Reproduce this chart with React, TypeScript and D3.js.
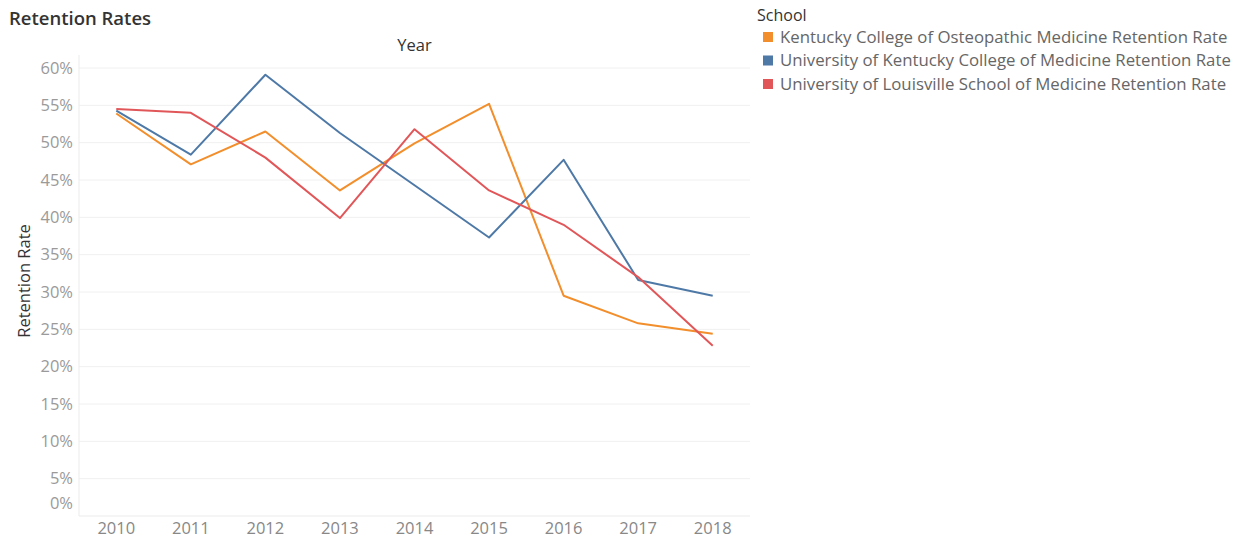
import React, { useEffect, useRef } from "react";
import * as d3 from "d3";

const years = ["2010", "2011", "2012", "2013", "2014", "2015", "2016", "2017", "2018"];

const schools = [
  "Kentucky College of Osteopathic Medicine Retention Rate",
  "University of Kentucky College of Medicine Retention Rate",
  "University of Louisville School of Medicine Retention Rate",
];

const kcomRates = [53.9, 47.1, 51.5, 43.6, 49.9, 55.2, 29.5, 25.8, 24.4];
const ukRates = [54.3, 48.4, 59.1, 51.3, 44.3, 37.3, 47.7, 31.6, 29.5];
const uoflRates = [54.5, 54.0, 48.0, 39.9, 51.8, 43.6, 39.0, 32.0, 22.8];

const yTicks = [0, 5, 10, 15, 20, 25, 30, 35, 40, 45, 50, 55, 60];

const colors = ["#f28e2b", "#4e79a7", "#e15759"];

const FONT = "'Open Sans', sans-serif";

const App: React.FC = () => {
  const svgRef = useRef<SVGSVGElement | null>(null);

  useEffect(() => {
    if (!svgRef.current) return;
    document.body.style.margin = "0";

    const width = 1245;
    const height = 540;
    const marginLeft = 79;
    const plotRight = 750;
    const plotTop = 55;
    const plotBottom = 516;

    const series = [kcomRates, ukRates, uoflRates].map((vals, i) => ({
      name: schools[i],
      color: colors[i],
      values: vals.map((v, j) => ({ year: years[j], value: v })),
    }));

    const x = d3.scaleBand().domain(years).range([marginLeft, plotRight]);
    const y = d3.scaleLinear().domain([0, 60]).range([plotBottom, 68]);

    const svg = d3
      .select(svgRef.current)
      .attr("width", width)
      .attr("height", height)
      .attr("viewBox", [0, 0, width, height])
      .style("display", "block")
      .style("font-family", FONT);

    svg.selectAll("*").remove();

    // Title
    svg
      .append("text")
      .attr("x", 9)
      .attr("y", 25)
      .attr("font-size", 18.5)
      .attr("font-weight", 600)
      .attr("fill", "#333")
      .text("Retention Rates");

    // Column header
    svg
      .append("text")
      .attr("x", (marginLeft + plotRight) / 2)
      .attr("y", 51)
      .attr("text-anchor", "middle")
      .attr("font-size", 16.5)
      .attr("fill", "#333")
      .text("Year");

    // Gridlines
    svg
      .append("g")
      .selectAll("line")
      .data(yTicks.filter((t) => t > 0))
      .join("line")
      .attr("x1", marginLeft)
      .attr("x2", plotRight)
      .attr("y1", (d) => y(d))
      .attr("y2", (d) => y(d))
      .attr("stroke", "#f0f0f0")
      .attr("stroke-width", 1);

    // Axis lines
    svg
      .append("line")
      .attr("x1", marginLeft)
      .attr("x2", marginLeft)
      .attr("y1", plotTop)
      .attr("y2", plotBottom)
      .attr("stroke", "#ebebeb");
    svg
      .append("line")
      .attr("x1", marginLeft)
      .attr("x2", plotRight)
      .attr("y1", plotBottom)
      .attr("y2", plotBottom)
      .attr("stroke", "#ebebeb");

    // Y tick labels
    svg
      .append("g")
      .selectAll("text")
      .data(yTicks)
      .join("text")
      .attr("x", 73)
      .attr("y", (d) => (d === 0 ? y(d) - 13 : y(d)))
      .attr("dy", "0.35em")
      .attr("text-anchor", "end")
      .attr("font-size", 16.5)
      .attr("fill", "#9a9a9a")
      .text((d) => `${d}%`);

    // X tick labels
    svg
      .append("g")
      .selectAll("text")
      .data(years)
      .join("text")
      .attr("x", (d) => x(d)! + x.bandwidth() / 2)
      .attr("y", 528)
      .attr("dy", "0.35em")
      .attr("text-anchor", "middle")
      .attr("font-size", 16.5)
      .attr("fill", "#888")
      .text((d) => d);

    // Y axis title
    svg
      .append("text")
      .attr("transform", `translate(24,${281}) rotate(-90)`)
      .attr("text-anchor", "middle")
      .attr("dy", "0.35em")
      .attr("font-size", 16.5)
      .attr("fill", "#333")
      .text("Retention Rate");

    // Lines
    const line = d3
      .line<{ year: string; value: number }>()
      .x((d) => x(d.year)! + x.bandwidth() / 2)
      .y((d) => y(d.value));

    svg
      .append("g")
      .selectAll("path")
      .data(series)
      .join("path")
      .attr("fill", "none")
      .attr("stroke", (d) => d.color)
      .attr("stroke-width", 2)
      .attr("stroke-linejoin", "round")
      .attr("d", (d) => line(d.values));

    // Legend
    const legend = svg.append("g").attr("transform", "translate(757,0)");
    legend
      .append("text")
      .attr("x", 0)
      .attr("y", 15)
      .attr("dy", "0.35em")
      .attr("font-size", 16)
      .attr("fill", "#333")
      .text("School");

    const items = legend
      .selectAll("g.item")
      .data(series)
      .join("g")
      .attr("class", "item")
      .attr("transform", (_, i) => `translate(0,${37 + i * 23.5})`);
    items
      .append("rect")
      .attr("x", 6)
      .attr("y", -5)
      .attr("width", 10)
      .attr("height", 10)
      .attr("fill", (d) => d.color);
    items
      .append("text")
      .attr("x", 23)
      .attr("dy", "0.35em")
      .attr("font-size", 16.8)
      .attr("fill", "#666")
      .text((d) => d.name);

    return () => {
      svg.selectAll("*").remove();
    };
  }, []);

  return <svg ref={svgRef}></svg>;
};

export default App;
